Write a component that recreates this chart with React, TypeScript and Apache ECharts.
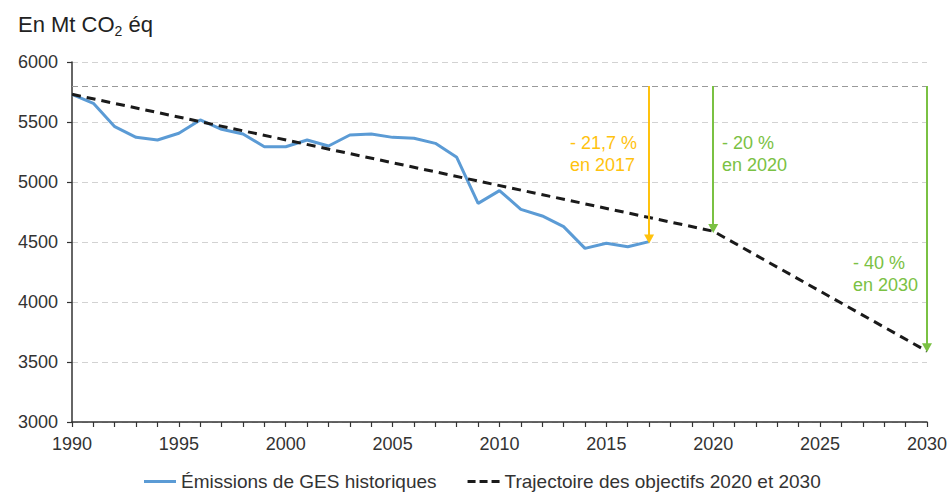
import React, { useEffect, useRef } from "react";
import * as echarts from "echarts";

const histYears = [1990, 1991, 1992, 1993, 1994, 1995, 1996, 1997, 1998, 1999, 2000, 2001, 2002, 2003, 2004, 2005, 2006, 2007, 2008, 2009, 2010, 2011, 2012, 2013, 2014, 2015, 2016, 2017];
const histValues = [5731, 5656, 5461, 5372, 5350, 5406, 5517, 5439, 5400, 5294, 5294, 5350, 5300, 5392, 5400, 5372, 5364, 5322, 5206, 4822, 4928, 4772, 4717, 4628, 4447, 4489, 4461, 4503];

const trajYears = [1990, 2020, 2030];
const trajValues = [5731, 4590, 3590];

const refLevel = 5800;
const arrowYears = [2017, 2020, 2030];
const arrowEnds = [4525, 4612, 3618];

const annotationLines = [
  ["- 21,7 %", "en 2017"],
  ["- 20 %", "en 2020"],
  ["- 40 %", "en 2030"],
];

const yTicks = { min: 3000, max: 6000, interval: 500 };
const xTicks = { min: 1990, max: 2030, interval: 5 };

const legendNames = ["Émissions de GES historiques", "Trajectoire des objectifs 2020 et 2030"];

const FONT = '"Liberation Sans", Arial, Helvetica, sans-serif';
const BLUE = "#5B9BD5";
const YELLOW = "#FFC20E";
const GREEN = "#7AC143";
const DARK = "#1a1a1a";
const TEXT = "#333333";

export default function App() {
  const ref = useRef<HTMLDivElement>(null);

  useEffect(() => {
    if (!ref.current) return;
    const chart = echarts.init(ref.current, undefined, { renderer: "svg" });

    const arrowColors = [YELLOW, GREEN, GREEN];
    const markData: any[] = [
      [
        { coord: [xTicks.min, refLevel], symbol: "none", lineStyle: { color: "#9a9a9a", width: 1.2, type: [6, 4] } },
        { coord: [xTicks.max, refLevel], symbol: "none" },
      ],
    ];
    arrowYears.forEach((yr, i) => {
      markData.push([
        { coord: [yr, refLevel], symbol: "none", lineStyle: { color: arrowColors[i], width: 2, type: "solid" }, itemStyle: { color: arrowColors[i] } },
        { coord: [yr, arrowEnds[i]], symbol: "triangle", symbolSize: [10, 9], itemStyle: { color: arrowColors[i] } },
      ]);
    });

    const annPos = [
      { x: 570, y: 132, color: YELLOW },
      { x: 722, y: 132, color: GREEN },
      { x: 853, y: 252, color: GREEN },
    ];

    const option: any = {
      animation: false,
      backgroundColor: "#ffffff",
      textStyle: { fontFamily: FONT },
      title: {
        text: "{a|En Mt CO}{s|2}{a| éq}",
        left: 13,
        top: 5,
        textStyle: {
          fontWeight: "normal",
          rich: {
            a: { fontSize: 22, lineHeight: 28, color: "#222", fontFamily: FONT, fontWeight: "normal", verticalAlign: "middle" },
            s: { fontSize: 14, lineHeight: 14, color: "#222", fontFamily: FONT, fontWeight: "normal", verticalAlign: "bottom" },
          },
        },
      },
      grid: { left: 72, right: 22, top: 62, bottom: 71, containLabel: false },
      legend: {
        data: [
          { name: legendNames[0], icon: "path://M0,0H32V3H0Z" },
          { name: legendNames[1], icon: "path://M0,0H8V3H0Z M12,0H20V3H12Z M24,0H32V3H24Z" },
        ],
        left: 139,
        top: 467,
        itemWidth: 32,
        itemHeight: 14,
        itemGap: 31,
        textStyle: { fontSize: 19, color: TEXT, fontFamily: FONT },
      },
      xAxis: {
        type: "value",
        min: xTicks.min,
        max: xTicks.max,
        interval: xTicks.interval,
        axisLine: { show: true, lineStyle: { color: "#333", width: 1.5 } },
        axisTick: { show: true, length: 5, lineStyle: { color: "#333", width: 1.2 } },
        minorTick: { show: true, splitNumber: 5, length: 5, lineStyle: { color: "#333", width: 1.2 } },
        axisLabel: { fontSize: 18, color: TEXT, margin: 13, fontFamily: FONT, formatter: (v: number) => String(v) },
        splitLine: { show: false },
      },
      yAxis: {
        type: "value",
        min: yTicks.min,
        max: yTicks.max,
        interval: yTicks.interval,
        axisLine: { show: true, lineStyle: { color: "#333", width: 1.5 } },
        axisTick: { show: true, length: 5, lineStyle: { color: "#333", width: 1.2 } },
        axisLabel: { fontSize: 18, color: TEXT, margin: 14, fontFamily: FONT, formatter: (v: number) => String(v) },
        splitLine: { show: true, lineStyle: { color: "#d2d2d2", width: 1.2, type: [6, 4] } },
      },
      series: [
        {
          name: legendNames[0],
          type: "line",
          data: histYears.map((y, i) => [y, histValues[i]]),
          symbol: "none",
          lineStyle: { color: BLUE, width: 3 },
          itemStyle: { color: BLUE },
          z: 3,
        },
        {
          name: legendNames[1],
          type: "line",
          data: trajYears.map((y, i) => [y, trajValues[i]]),
          symbol: "none",
          lineStyle: { color: DARK, width: 3, type: [9, 6] },
          itemStyle: { color: DARK },
          z: 4,
        },
        {
          name: "annotations",
          type: "line",
          data: [],
          symbol: "none",
          markLine: {
            silent: true,
            symbol: ["none", "triangle"],
            label: { show: false },
            data: markData,
          },
          z: 5,
        },
      ],
      graphic: annotationLines.map((lines, i) => ({
        type: "text",
        x: annPos[i].x,
        y: annPos[i].y,
        style: {
          text: lines.join("\n"),
          fill: annPos[i].color,
          fontSize: 18,
          fontFamily: FONT,
          lineHeight: 22,
          align: "left",
          verticalAlign: "top",
        },
      })),
    };

    chart.setOption(option);
    return () => chart.dispose();
  }, []);

  return (
    <div
      ref={ref}
      style={{ position: "fixed", left: 0, top: 0, width: 950, height: 493, background: "#fff" }}
    />
  );
}
